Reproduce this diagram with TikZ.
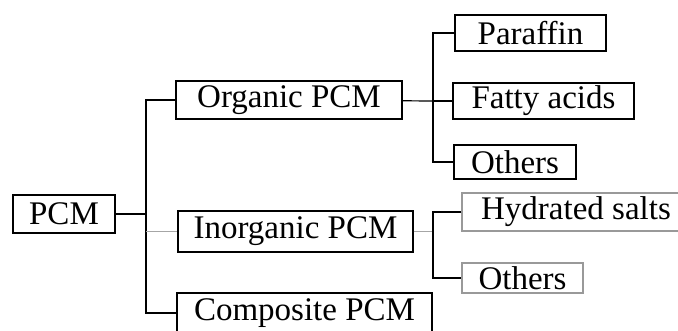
\documentclass[tikz,border=0pt]{standalone}
\usepackage{fontspec}
\setmainfont{Liberation Serif}
\usepackage{tikz}

\begin{document}
\begin{tikzpicture}
          [x=1pt,y=-1pt,line width=1.2pt,
          class/.style={rectangle,draw=black,inner sep=0pt,font=\fontsize{33}{38}\selectfont,minimum height=38pt},
          link/.style={draw=black,line width=1.2pt},
          faint/.style={draw=gray!70,line width=1.2pt}]
          \clip (0,0) rectangle (678,331);
          % \draw[help lines] (0,0) grid[step=50] (678,331);
          \node[class,minimum width=102pt]               (pcm)       at (64,214)    {PCM};
          \node[class,minimum width=226pt]               (organic)   at (289,100)   {Organic PCM};
          \node[class,minimum width=235pt,minimum height=41pt] (inorganic) at (295.5,231.5) {Inorganic PCM};
          \node[class,minimum width=255pt,minimum height=40pt] (composite) at (304.5,313) {Composite PCM};
          \node[class,minimum width=151pt,minimum height=36pt] (paraffin)  at (530.5,33) {Paraffin};
          \node[class,minimum width=181pt,minimum height=36pt] (fatty)     at (543.5,101) {Fatty acids};
          \node[class,minimum width=122pt,minimum height=34pt] (others1)   at (515,162)  {Others};
          \node[class,draw=gray!80,minimum width=228pt]  (hydrated)  at (576,212)   {Hydrated salts};
          \node[class,draw=gray!80,minimum width=121pt,minimum height=30pt] (others2) at (522.5,278) {Others};
          \coordinate (root)  at (146,214);
          \coordinate (orgj)  at (433,101);
          \coordinate (inorj) at (433,231.5);
          \draw[link]  (pcm) -- (root);
          \draw[link]  (organic.west) -| (root) |- (composite.west);
          \draw[faint] (root |- inorganic) -- (inorganic.west);
          \draw[link]  (organic) -- (orgj);
          \draw[link]  (paraffin.west) -| (orgj) |- (others1.west);
          \draw[link]  (orgj) -- (fatty.west);
          \draw[faint] (inorganic) -- (inorj);
          \draw[link]  (hydrated.west) -| (inorj) |- (others2.west);
        \end{tikzpicture}
\end{document}
